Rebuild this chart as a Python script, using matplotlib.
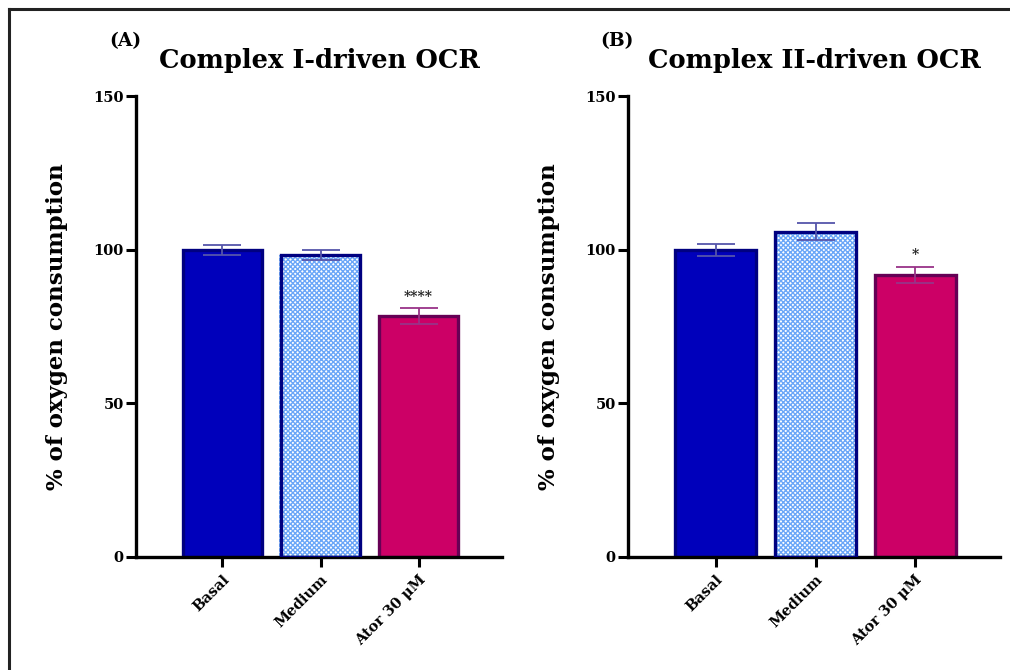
import matplotlib
matplotlib.use("Agg")
import matplotlib.pyplot as plt
from matplotlib.lines import Line2D

plt.rcParams['font.family'] = ['DejaVu Serif']
plt.rcParams['font.weight'] = 'bold'
plt.rcParams['axes.titleweight'] = 'bold'
plt.rcParams['axes.labelweight'] = 'bold'

groups = ["Basal", "Medium", "Ator 30 μM"]
ci_mean = [100.0, 98.2, 78.4]
ci_sem = [1.6, 1.7, 2.5]
cii_mean = [99.9, 105.8, 91.8]
cii_sem = [1.8, 2.8, 2.6]
ci_stars = ["", "", "****"]
cii_stars = ["", "", "*"]
titles = ["Complex I-driven OCR", "Complex II-driven OCR"]
letters = ["(A)", "(B)"]
yticks = [0, 50, 100, 150]

fill = ["#0000BB", None, "#CC0066"]
edge = ["#000080", "#000080", "#660055"]
err_col = ["#5555AA", "#5555AA", "#993388"]

fig = plt.figure(figsize=(10.1, 6.7), dpi=100)

# frame around the figure (cropped on the right / bottom)
fig.add_artist(Line2D([9 / 1010, 1.0], [1 - 9 / 670, 1 - 9 / 670], color="#222222", lw=2.2))
fig.add_artist(Line2D([9 / 1010, 9 / 1010], [0, 1 - 9 / 670], color="#222222", lw=2.2))

panels = [
    (0.1347, 0.3624, ci_mean, ci_sem, ci_stars),
    (0.6218, 0.3683, cii_mean, cii_sem, cii_stars),
]
x = list(range(len(groups)))

for k, (left, width, mean, sem, stars) in enumerate(panels):
    ax = fig.add_axes([left, 0.1687, width, 0.688])
    for i in x:
        if fill[i] is None:
            ax.bar(i, mean[i], width=0.84, color="white", hatch="xxxxxxx",
                   edgecolor="#6AA6F8", linewidth=0, zorder=2)
            ax.bar(i, mean[i], width=0.81, color="none", edgecolor=edge[i],
                   linewidth=2.4, zorder=3)
        else:
            ax.bar(i, mean[i], width=0.81, color=fill[i], edgecolor=edge[i],
                   linewidth=2.4, zorder=2)
        ax.errorbar(i, mean[i], yerr=sem[i], color=err_col[i], capsize=14,
                    elinewidth=1.3, capthick=1.3, zorder=4)
        if stars[i]:
            ax.text(i, mean[i] + sem[i] + 1.5, stars[i], ha="center", va="bottom",
                    fontsize=10, color="#222222")
    ax.set_ylim(0, 150)
    ax.set_xlim(-0.88, 2.85)
    ax.set_yticks(yticks)
    ax.set_xticks(x)
    ax.set_xticklabels(groups, rotation=45, ha="right", rotation_mode="anchor",
                       fontsize=10.5)
    ax.tick_params(axis="y", labelsize=10.5, width=2.2, length=7, pad=2)
    ax.tick_params(axis="x", width=2.2, length=7, pad=4)
    for s in ["top", "right"]:
        ax.spines[s].set_visible(False)
    for s in ["left", "bottom"]:
        ax.spines[s].set_linewidth(2.4)
    ax.set_ylabel("% of oxygen consumption", fontsize=16.5, labelpad=18)
    ax.set_title(titles[k], fontsize=18.5, pad=20)
    ax.text(-0.03, 1.12, letters[k], transform=ax.transAxes, fontsize=13.5,
            ha="center", va="center")

fig.savefig("out.png", dpi=100)
